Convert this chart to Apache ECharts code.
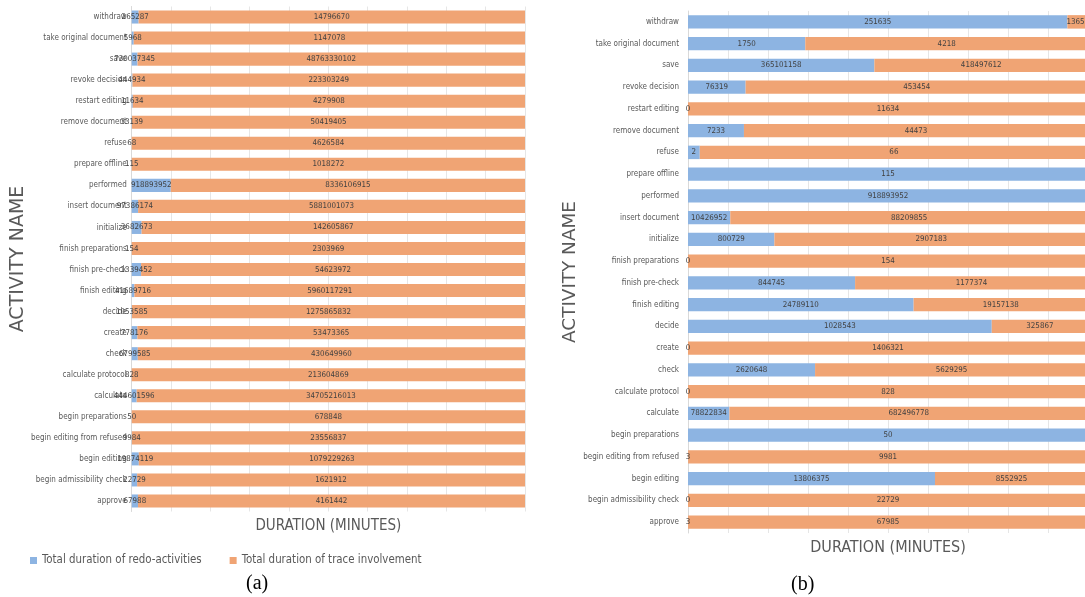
<!DOCTYPE html>
<html>
<head>
<meta charset="utf-8">
<script src="https://cdn.jsdelivr.net/npm/echarts@6/dist/echarts.min.js"></script>
<style>
html,body{margin:0;padding:0;background:#fff;}
#main{width:1085px;height:597px;}
</style>
</head>
<body>
<div id="main"></div>
<script>
// ---- data ----
const categories = ['withdraw', 'take original document', 'save', 'revoke decision', 'restart editing', 'remove document', 'refuse', 'prepare offline', 'performed', 'insert document', 'initialize', 'finish preparations', 'finish pre-check', 'finish editing', 'decide', 'create', 'check', 'calculate protocol', 'calculate', 'begin preparations', 'begin editing from refused', 'begin editing', 'begin admissibility check', 'approve'];
const seriesNames = ['Total duration of redo-activities', 'Total duration of trace involvement'];
// panel (a)
const redoA = [265287, 5968, 730037345, 444934, 11634, 33139, 68, 115, 918893952, 97386174, 3682673, 154, 1339452, 41689716, 1053585, 778176, 6799585, 828, 444601596, 50, 9984, 19874119, 22729, 67988];
const traceA = [14796670, 1147078, 48763330102, 223303249, 4279908, 50419405, 4626584, 1018272, 8336106915, 5881001073, 142605867, 2303969, 54623972, 5960117291, 1275865832, 53473365, 430649960, 213604869, 34705216013, 678848, 23556837, 1079229263, 1621912, 4161442];
// panel (b)
const redoB = [251635, 1750, 365101158, 76319, 0, 7233, 2, 115, 918893952, 10426952, 800729, 0, 844745, 24789110, 1028543, 0, 2620648, 0, 78822834, 50, 3, 13806375, 0, 3];
const traceB = [13652, 4218, 418497612, 453454, 11634, 44473, 66, null, null, 88209855, 2907183, 154, 1177374, 19157138, 325867, 1406321, 5629295, 828, 682496778, null, 9981, 8552925, 22729, 67985];
const axisTitleX = 'DURATION (MINUTES)';
const axisTitleY = 'ACTIVITY NAME';
const panelLabels = ['(a)', '(b)'];

// ---- build 100% stacked items ----
function pct(list, other) {
  return list.map((v, i) => {
    if (v === null || v === undefined) return { value: null };
    const tot = (v || 0) + (other[i] || 0);
    return { value: tot ? v / tot * 100 : 0, raw: v };
  });
}

const FONT = '"DejaVu Sans Condensed", "DejaVu Sans", sans-serif';
const WIDE = '"DejaVu Sans", sans-serif';
const BLUE = '#8DB4E2';
const ORANGE = '#F0A474';
const labelCfg = {
  show: true, position: 'inside', color: '#404040', fontSize: 7.9, fontFamily: FONT,
  formatter: p => p.data.raw
};

function bar(name, stack, gi, data, color) {
  return {
    type: 'bar', name: name, stack: stack, xAxisIndex: gi, yAxisIndex: gi,
    barCategoryGap: '38%', data: data, itemStyle: { color: color },
    label: labelCfg, emphasis: { disabled: true }, animation: false
  };
}

function xAx(gi, fs) {
  return {
    type: 'value', gridIndex: gi, min: 0, max: 100, interval: 10,
    axisLabel: { show: false }, axisTick: { show: false }, axisLine: { show: false },
    splitLine: { show: true, lineStyle: { color: '#e6e6e6', width: 1 } },
    name: axisTitleX, nameLocation: 'middle', nameGap: 7,
    nameTextStyle: { color: '#595959', fontSize: fs, fontFamily: FONT, verticalAlign: 'top' }
  };
}
function yAx(gi, margin, gap, fs) {
  return {
    type: 'category', gridIndex: gi, data: categories, inverse: true,
    axisTick: { show: false },
    axisLine: { show: true, lineStyle: { color: '#d9d9d9' } },
    axisLabel: { color: '#595959', fontSize: 8, fontFamily: FONT, margin: margin },
    name: axisTitleY, nameLocation: 'middle', nameGap: gap, nameRotate: 90,
    nameTextStyle: { color: '#595959', fontSize: fs, fontFamily: WIDE }
  };
}

const option = {
  backgroundColor: '#ffffff',
  animation: false,
  grid: [
    { left: 131.7, top: 6.5, width: 393.3, height: 505, containLabel: false, outerBoundsMode: 'none' },
    { left: 688, top: 11, width: 400, height: 522, containLabel: false, outerBoundsMode: 'none' }
  ],
  xAxis: [xAx(0, 15), xAx(1, 16)],
  yAxis: [yAx(0, 5, 99, 19), yAx(1, 9, 107, 18.4)],
  legend: {
    left: 25, top: 550, itemWidth: 7, itemHeight: 7, itemGap: 28,
    icon: 'rect', data: seriesNames,
    textStyle: { color: '#595959', fontSize: 11.4, fontFamily: FONT },
    selectedMode: false
  },
  title: [
    { text: panelLabels[0], left: 241, top: 569, textStyle: { fontFamily: '"Liberation Serif", serif', fontWeight: 'normal', fontSize: 20, color: '#000' } },
    { text: panelLabels[1], left: 786, top: 570, textStyle: { fontFamily: '"Liberation Serif", serif', fontWeight: 'normal', fontSize: 20, color: '#000' } }
  ],
  series: [
    bar(seriesNames[0], 'a', 0, pct(redoA, traceA), BLUE),
    bar(seriesNames[1], 'a', 0, pct(traceA, redoA), ORANGE),
    bar(seriesNames[0], 'b', 1, pct(redoB, traceB), BLUE),
    bar(seriesNames[1], 'b', 1, pct(traceB, redoB), ORANGE)
  ]
};

const chart = echarts.init(document.getElementById('main'), null, { renderer: 'canvas' });
chart.setOption(option);
</script>
</body>
</html>
